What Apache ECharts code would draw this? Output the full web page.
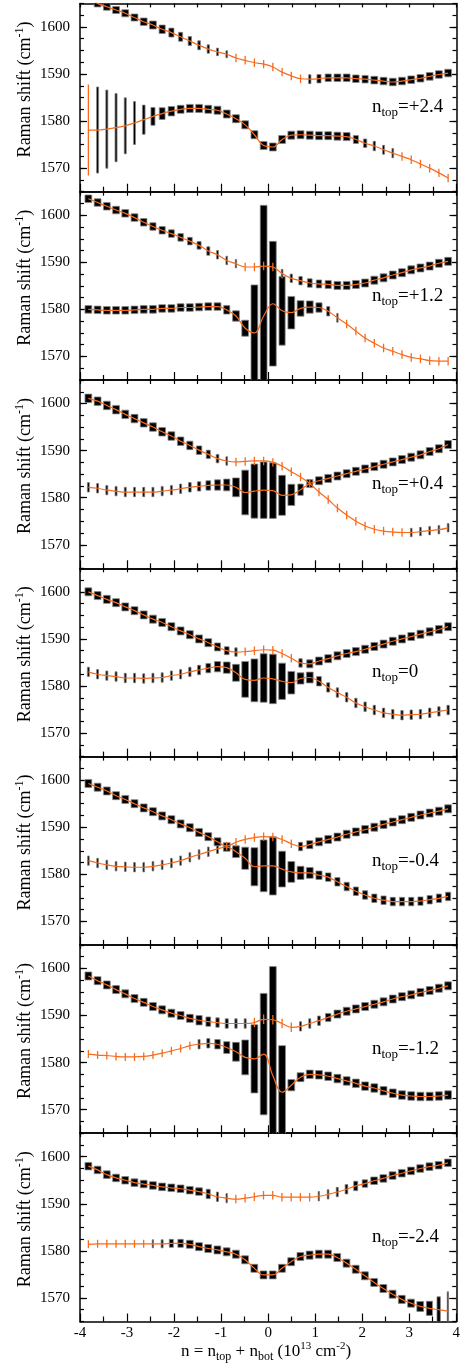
<!DOCTYPE html>
<html>
<head>
<meta charset="utf-8">
<script src="https://cdn.jsdelivr.net/npm/echarts@6/dist/echarts.min.js"></script>
<style>
  html, body { margin: 0; padding: 0; background: #fff; }
  #chart { width: 463px; height: 1363px; }
</style>
</head>
<body>
<div id="chart"></div>
<script>
// carrier density n = n_top + n_bot (10^13 cm^-2), shared by every panel
const dopings = [-3.822, -3.626, -3.430, -3.234, -3.038, -2.842, -2.646, -2.450, -2.254, -2.058,
  -1.862, -1.666, -1.470, -1.274, -1.078, -0.882, -0.686, -0.490, -0.294, -0.098,
  0.098, 0.294, 0.490, 0.686, 0.882, 1.078, 1.274, 1.470, 1.666, 1.862,
  2.058, 2.254, 2.450, 2.646, 2.842, 3.038, 3.234, 3.430, 3.626, 3.822]
const panelLabels = ['+2.4', '+1.2', '+0.4', '0', '-0.4', '-1.2', '-2.4']
const yTicks = [1570, 1580, 1590, 1600]

// freq = peak position (cm-1), fwhm = linewidth (cm-1), amp = relative intensity
// n_top = +2.4
const p1UpFreq = [1606.4, 1605.0, 1604.3, 1603.6, 1602.9, 1602.0, 1601.1, 1600.4, 1599.5, 1598.8,
  1597.9, 1597.0, 1596.1, 1595.3, 1594.7, 1594.2, 1593.4, 1592.9, 1592.4, 1592.1,
  1591.5, 1590.4, 1589.6, 1589.0, 1588.9, 1589.0, 1589.2, 1589.2, 1589.2, 1589.0,
  1588.9, 1588.7, 1588.5, 1588.3, 1588.5, 1588.8, 1589.1, 1589.5, 1589.9, 1590.2]
const p1UpFwhm = [1.5, 1.5, 1.5, 1.5, 1.5, 1.5, 1.6, 1.7, 1.8, 1.9,
  1.9, 1.9, 1.9, 1.8, 1.6, 1.5, 1.8, 1.8, 1.8, 1.8,
  1.8, 1.8, 1.8, 1.8, 1.9, 1.8, 1.6, 1.6, 1.6, 1.6,
  1.6, 1.6, 1.6, 1.6, 1.6, 1.6, 1.6, 1.6, 1.6, 1.6]
const p1UpAmp = [1, 1, 1, 1, 1, 1, 1, 1, 0.9, 0.75,
  0.6, 0.5, 0.4, 0.35, 0.3, 0.25, 0, 0, 0, 0,
  0, 0, 0, 0, 0.35, 0.6, 0.9, 1, 1, 0.95,
  0.9, 1, 1, 1, 1, 1, 1, 1, 1, 1]
const p1LoFreq = [1578.1, 1578.1, 1578.3, 1578.6, 1579.0, 1579.6, 1580.3, 1581.0, 1581.6, 1582.1,
  1582.5, 1582.7, 1582.7, 1582.5, 1582.3, 1581.5, 1580.5, 1579.2, 1577.1, 1574.8,
  1574.5, 1576.1, 1577.0, 1577.1, 1577.0, 1576.9, 1576.9, 1576.8, 1576.7, 1576.1,
  1575.3, 1574.7, 1573.9, 1573.2, 1572.5, 1571.8, 1570.9, 1570.0, 1569.0, 1567.9]
const p1LoFwhm = [19.3, 18.3, 16.6, 14.5, 11.9, 9.1, 6.2, 3.8, 2.5, 2.0,
  1.7, 1.7, 1.7, 1.7, 1.7, 1.7, 1.7, 1.7, 1.7, 1.7,
  1.7, 1.7, 1.7, 1.7, 1.7, 1.7, 1.7, 1.7, 1.7, 1.7,
  1.8, 2.0, 1.9, 2.0, 1.8, 1.8, 1.8, 1.8, 1.8, 1.8]
const p1LoAmp = [0, 0.3, 0.3, 0.3, 0.3, 0.3, 0.4, 0.6, 0.85, 0.95,
  1, 1, 1, 1, 1, 1, 1, 1, 1, 1,
  1, 1, 1, 1, 1, 1, 1, 1, 1, 0.75,
  0.5, 0.35, 0.3, 0.25, 0, 0, 0, 0, 0, 0]

// n_top = +1.2
const p2UpFreq = [1603.5, 1602.7, 1601.9, 1601.1, 1600.4, 1599.5, 1598.5, 1597.6, 1596.8, 1596.1,
  1595.3, 1594.5, 1593.6, 1592.4, 1591.6, 1590.4, 1589.7, 1589.0, 1589.0, 1589.2,
  1589.0, 1587.6, 1586.6, 1586.1, 1585.6, 1585.4, 1585.3, 1585.1, 1585.1, 1585.3,
  1585.6, 1586.2, 1586.7, 1587.3, 1587.8, 1588.4, 1588.8, 1589.2, 1589.8, 1590.2]
const p2UpFwhm = [1.6, 1.6, 1.6, 1.6, 1.6, 1.6, 1.6, 1.6, 1.6, 1.6,
  1.6, 1.6, 1.6, 1.8, 1.8, 1.8, 1.8, 1.8, 1.8, 1.8,
  1.8, 1.8, 1.8, 1.8, 1.8, 1.7, 1.7, 1.7, 1.7, 1.7,
  1.7, 1.7, 1.7, 1.7, 1.7, 1.7, 1.7, 1.7, 1.7, 1.7]
const p2UpAmp = [1, 1, 1, 1, 1, 1, 0.95, 0.9, 0.9, 0.85,
  0.8, 0.7, 0.6, 0.45, 0.3, 0.25, 0.2, 0, 0, 0,
  0, 0.25, 0.35, 0.5, 0.7, 0.8, 0.9, 1, 1, 1,
  1, 1, 1, 1, 1, 1, 1, 1, 1, 1]
const p2LoFreq = [1580.0, 1579.9, 1579.8, 1579.8, 1579.8, 1579.9, 1580.0, 1580.0, 1580.2, 1580.2,
  1580.4, 1580.4, 1580.5, 1580.6, 1580.6, 1579.9, 1578.6, 1576.0, 1575.0, 1578.6,
  1581.2, 1579.7, 1579.3, 1580.2, 1580.5, 1580.4, 1579.6, 1578.2, 1576.9, 1575.4,
  1573.9, 1572.8, 1571.8, 1571.1, 1570.4, 1569.8, 1569.5, 1569.1, 1569.0, 1569.0]
const p2LoFwhm = [1.6, 1.6, 1.6, 1.6, 1.6, 1.6, 1.6, 1.6, 1.6, 1.6,
  1.6, 1.6, 1.6, 1.6, 1.6, 1.8, 2.2, 3.4, 20.4, 47,
  26.5, 14.6, 6.9, 3.3, 2.6, 2.0, 2.0, 1.9, 1.8, 1.8,
  1.8, 1.8, 1.8, 1.8, 1.8, 1.8, 1.8, 1.8, 1.8, 1.8]
const p2LoAmp = [1, 1, 1, 1, 1, 1, 1, 1, 1, 1,
  1, 1, 1, 1, 1, 0.9, 1, 1, 1, 1,
  1, 0.9, 1, 1, 1, 0.9, 0.45, 0.2, 0, 0,
  0, 0, 0, 0, 0, 0, 0, 0, 0, 0]

// n_top = +0.4
const p3UpFreq = [1601.1, 1600.5, 1599.6, 1598.7, 1597.7, 1596.8, 1595.9, 1595.0, 1594.0, 1593.1,
  1592.0, 1591.1, 1590.1, 1589.2, 1588.3, 1587.8, 1587.6, 1587.7, 1587.8, 1587.8,
  1587.5, 1586.7, 1585.5, 1584.4, 1583.0, 1581.2, 1579.6, 1577.8, 1576.3, 1575.0,
  1574.0, 1573.3, 1572.9, 1572.7, 1572.6, 1572.6, 1572.8, 1573.0, 1573.2, 1573.6]
const p3UpFwhm = [1.8, 1.8, 1.8, 1.8, 1.8, 1.8, 1.8, 1.8, 1.8, 1.8,
  1.8, 1.8, 1.8, 1.8, 1.8, 1.8, 1.8, 1.8, 1.8, 1.8,
  1.8, 1.8, 1.8, 1.8, 1.8, 1.8, 1.8, 1.8, 1.8, 1.8,
  1.8, 1.8, 1.8, 1.8, 1.8, 1.8, 1.8, 1.8, 1.8, 1.8]
const p3UpAmp = [1, 1, 1, 1, 1, 1, 1, 1, 1, 1,
  0.95, 0.9, 0.8, 0.6, 0.4, 0.25, 0, 0, 0, 0,
  0, 0, 0, 0, 0, 0, 0, 0, 0, 0,
  0, 0, 0, 0, 0, 0.25, 0.25, 0.25, 0.25, 0.25]
const p3LoFreq = [1582.2, 1582.0, 1581.6, 1581.4, 1581.2, 1581.2, 1581.2, 1581.2, 1581.4, 1581.6,
  1581.9, 1582.2, 1582.4, 1582.6, 1582.7, 1582.7, 1582.2, 1581.1, 1581.4, 1581.6,
  1581.5, 1580.5, 1580.6, 1581.7, 1583.0, 1583.6, 1584.1, 1584.6, 1585.1, 1585.6,
  1586.1, 1586.6, 1587.1, 1587.6, 1588.1, 1588.6, 1589.1, 1589.8, 1590.4, 1591.3]
const p3LoFwhm = [2.0, 2.0, 2.0, 2.0, 2.0, 2.0, 2.0, 2.0, 2.0, 2.0,
  2.0, 2.0, 2.0, 2.0, 2.2, 2.5, 4.0, 9.5, 11.5, 12.0,
  11.8, 8.5, 4.5, 2.4, 1.7, 1.7, 1.7, 1.7, 1.7, 1.7,
  1.7, 1.7, 1.7, 1.7, 1.7, 1.7, 1.7, 1.7, 1.7, 1.7]
const p3LoAmp = [0.3, 0.3, 0.3, 0.3, 0.3, 0.3, 0.3, 0.3, 0.3, 0.3,
  0.3, 0.4, 0.5, 0.7, 0.85, 0.9, 1, 1, 1, 1,
  1, 1, 1, 0.8, 0.9, 1, 1, 1, 1, 1,
  1, 1, 1, 1, 1, 1, 1, 1, 1, 1]

// n_top = 0
const p4UpFreq = [1600.0, 1599.2, 1598.4, 1597.7, 1596.8, 1596.0, 1595.1, 1594.2, 1593.5, 1592.6,
  1591.7, 1590.9, 1590.0, 1589.2, 1588.3, 1587.5, 1587.2, 1587.3, 1587.5, 1587.7,
  1587.6, 1586.9, 1585.9, 1584.9, 1584.7, 1585.3, 1585.8, 1586.4, 1586.9, 1587.3,
  1587.8, 1588.4, 1588.9, 1589.5, 1590.0, 1590.5, 1591.0, 1591.5, 1592.0, 1592.6]
const p4UpFwhm = [1.7, 1.7, 1.7, 1.7, 1.7, 1.7, 1.7, 1.7, 1.7, 1.7,
  1.7, 1.7, 1.7, 1.7, 1.7, 1.7, 1.8, 1.8, 1.8, 1.8,
  1.8, 1.8, 1.8, 1.8, 1.7, 1.7, 1.7, 1.7, 1.7, 1.7,
  1.7, 1.7, 1.7, 1.7, 1.7, 1.7, 1.7, 1.7, 1.7, 1.7]
const p4UpAmp = [1, 1, 1, 1, 1, 1, 1, 1, 1, 1,
  1, 1, 1, 1, 0.9, 0.7, 0.35, 0, 0, 0,
  0, 0, 0, 0.5, 0.9, 1, 1, 1, 1, 1,
  1, 1, 1, 1, 1, 1, 1, 1, 1, 1]
const p4LoFreq = [1583.0, 1582.5, 1582.2, 1582.0, 1581.7, 1581.7, 1581.6, 1581.7, 1581.8, 1582.2,
  1582.5, 1583.0, 1583.4, 1583.8, 1584.1, 1583.9, 1582.8, 1581.4, 1581.2, 1581.7,
  1581.5, 1581.0, 1580.7, 1581.6, 1581.8, 1581.0, 1579.7, 1578.6, 1577.6, 1576.4,
  1575.6, 1574.9, 1574.3, 1574.0, 1573.8, 1573.9, 1574.0, 1574.3, 1574.6, 1574.9]
const p4LoFwhm = [2.0, 2.0, 2.0, 2.0, 2.0, 2.0, 2.0, 2.0, 2.0, 2.0,
  2.0, 2.0, 2.0, 2.0, 2.2, 2.4, 3.6, 7.6, 9.1, 10.3,
  10.5, 7.7, 4.8, 2.4, 2.3, 2.0, 2.0, 2.0, 2.0, 2.0,
  2.0, 2.0, 2.0, 2.0, 2.0, 2.0, 2.0, 2.0, 2.0, 2.0]
const p4LoAmp = [0.3, 0.3, 0.3, 0.3, 0.3, 0.3, 0.3, 0.3, 0.3, 0.3,
  0.3, 0.35, 0.45, 0.7, 0.9, 1, 1, 1, 1, 1,
  1, 1, 1, 1, 1, 0.7, 0.45, 0.35, 0.35, 0.35,
  0.35, 0.35, 0.35, 0.35, 0.35, 0.35, 0.35, 0.35, 0.35, 0.35]

// n_top = -0.4
const p5UpFreq = [1599.3, 1598.5, 1597.7, 1596.7, 1595.9, 1595.0, 1594.1, 1593.3, 1592.4, 1591.6,
  1590.7, 1589.9, 1588.9, 1588.0, 1586.9, 1586.0, 1586.8, 1587.4, 1587.8, 1588.0,
  1587.9, 1587.4, 1586.5, 1585.9, 1586.3, 1586.9, 1587.4, 1587.9, 1588.5, 1589.0,
  1589.5, 1590.0, 1590.6, 1591.1, 1591.6, 1592.1, 1592.6, 1593.0, 1593.4, 1593.9]
const p5UpFwhm = [1.7, 1.7, 1.7, 1.7, 1.7, 1.7, 1.7, 1.7, 1.7, 1.7,
  1.7, 1.7, 1.7, 1.7, 1.7, 1.8, 1.8, 1.8, 1.8, 1.8,
  1.8, 1.8, 1.8, 1.8, 1.7, 1.7, 1.7, 1.7, 1.7, 1.7,
  1.7, 1.7, 1.7, 1.7, 1.7, 1.7, 1.7, 1.7, 1.7, 1.7]
const p5UpAmp = [1, 1, 1, 1, 1, 1, 1, 1, 1, 1,
  1, 1, 1, 1, 1, 0, 0, 0, 0, 0,
  0, 0, 0, 0.6, 0.9, 1, 1, 1, 1, 1,
  1, 1, 1, 1, 1, 1, 1, 1, 1, 1]
const p5LoFreq = [1582.9, 1582.4, 1582.0, 1581.7, 1581.6, 1581.5, 1581.5, 1581.7, 1582.0, 1582.4,
  1582.9, 1583.6, 1584.2, 1584.8, 1585.4, 1585.8, 1584.8, 1583.4, 1581.6, 1581.8,
  1581.8, 1581.1, 1580.5, 1580.3, 1580.3, 1579.8, 1579.4, 1578.4, 1577.4, 1576.4,
  1575.6, 1574.9, 1574.5, 1574.2, 1574.2, 1574.2, 1574.3, 1574.6, 1574.9, 1575.3]
const p5LoFwhm = [2.0, 2.0, 2.0, 2.0, 2.0, 2.0, 2.0, 2.0, 2.0, 2.0,
  2.0, 2.0, 2.0, 2.0, 2.0, 1.8, 2.5, 4.7, 8.1, 11.0,
  12.4, 7.6, 4.4, 2.8, 2.3, 1.8, 1.8, 1.8, 1.8, 1.8,
  1.8, 1.8, 1.8, 1.8, 1.8, 1.8, 1.8, 1.8, 1.8, 1.8]
const p5LoAmp = [0.25, 0.25, 0.25, 0.25, 0.25, 0.25, 0.25, 0.25, 0.25, 0.25,
  0.25, 0.25, 0.25, 0.25, 0.3, 1, 1, 1, 1, 1,
  1, 1, 1, 1, 1, 0.9, 0.8, 0.75, 0.75, 0.75,
  0.75, 0.75, 0.75, 0.75, 0.75, 0.75, 0.75, 0.75, 0.75, 0.75]

// n_top = -1.2
const p6UpFreq = [1598.4, 1597.4, 1596.5, 1595.5, 1594.6, 1593.6, 1592.8, 1591.9, 1591.2, 1590.5,
  1590.0, 1589.4, 1589.0, 1588.7, 1588.5, 1588.3, 1588.3, 1588.3, 1588.5, 1589.2,
  1589.1, 1588.3, 1587.5, 1587.7, 1588.3, 1588.9, 1589.6, 1590.3, 1590.9, 1591.4,
  1591.9, 1592.4, 1592.9, 1593.5, 1594.0, 1594.4, 1594.9, 1595.3, 1595.8, 1596.3]
const p6UpFwhm = [1.7, 1.7, 1.7, 1.7, 1.7, 1.7, 1.7, 1.7, 1.7, 1.7,
  1.7, 1.7, 2.0, 2.0, 2.0, 2.0, 2.0, 2.0, 2.0, 2.0,
  2.0, 2.0, 2.0, 2.0, 2.0, 2.0, 1.7, 1.7, 1.7, 1.7,
  1.7, 1.7, 1.7, 1.7, 1.7, 1.7, 1.7, 1.7, 1.7, 1.7]
const p6UpAmp = [1, 1, 1, 1, 1, 1, 1, 1, 1, 1,
  1, 1, 0.9, 0.7, 0.5, 0.45, 0.35, 0.3, 0, 0,
  0, 0, 0, 0.3, 0.3, 0.4, 0.8, 1, 1, 1,
  1, 1, 1, 1, 1, 1, 1, 1, 1, 1]
const p6LoFreq = [1581.8, 1581.6, 1581.5, 1581.3, 1581.2, 1581.2, 1581.3, 1581.6, 1582.0, 1582.5,
  1583.0, 1583.6, 1583.9, 1584.1, 1583.9, 1583.2, 1582.3, 1581.1, 1580.8, 1581.8,
  1577.2, 1573.7, 1575.2, 1576.9, 1577.5, 1577.4, 1577.1, 1576.6, 1576.1, 1575.6,
  1575.0, 1574.6, 1574.0, 1573.5, 1573.1, 1572.9, 1572.8, 1572.8, 1572.9, 1573.1]
const p6LoFwhm = [1.7, 1.7, 1.7, 1.7, 1.7, 1.7, 1.7, 1.7, 1.7, 1.7,
  1.7, 1.7, 2.0, 2.0, 2.0, 2.5, 4.0, 7.4, 14.5, 25.8,
  46.4, 19.8, 2.4, 1.9, 1.8, 1.8, 1.8, 1.8, 1.8, 1.8,
  1.8, 1.8, 1.8, 1.8, 1.8, 1.8, 1.8, 1.8, 1.8, 1.8]
const p6LoAmp = [0, 0, 0, 0, 0, 0, 0, 0, 0, 0,
  0, 0, 0.3, 0.45, 0.8, 0.9, 1, 1, 1, 1,
  1, 1, 1, 1, 1, 1, 1, 1, 1, 1,
  1, 1, 1, 1, 1, 1, 1, 1, 1, 1]

// n_top = -2.4
const p7UpFreq = [1598.0, 1597.2, 1596.2, 1595.5, 1595.0, 1594.5, 1594.2, 1593.9, 1593.6, 1593.4,
  1593.2, 1592.9, 1592.6, 1592.1, 1591.5, 1591.2, 1591.0, 1591.2, 1591.5, 1591.8,
  1591.8, 1591.4, 1591.4, 1591.4, 1591.4, 1591.6, 1592.0, 1592.5, 1593.1, 1593.8,
  1594.3, 1594.9, 1595.4, 1596.0, 1596.5, 1597.0, 1597.5, 1597.9, 1598.2, 1598.7]
const p7UpFwhm = [1.6, 1.6, 1.6, 1.6, 1.6, 1.6, 1.6, 1.6, 1.6, 1.6,
  1.6, 1.6, 1.6, 2.0, 2.0, 2.0, 1.8, 1.8, 1.8, 1.8,
  1.8, 1.8, 1.8, 1.8, 1.8, 2.0, 2.0, 2.0, 2.0, 2.0,
  1.6, 1.6, 1.6, 1.6, 1.6, 1.6, 1.6, 1.6, 1.6, 1.6]
const p7UpAmp = [1, 1, 1, 1, 1, 1, 1, 1, 1, 1,
  1, 1, 1, 0.6, 0.3, 0.2, 0, 0, 0, 0,
  0, 0, 0, 0, 0, 0.2, 0.25, 0.3, 0.4, 0.6,
  0.8, 1, 1, 1, 1, 1, 1, 1, 1, 1]
const p7LoFreq = [1581.4, 1581.5, 1581.5, 1581.5, 1581.5, 1581.5, 1581.5, 1581.5, 1581.5, 1581.6,
  1581.6, 1581.4, 1580.9, 1580.5, 1580.2, 1579.8, 1579.3, 1578.1, 1576.3, 1574.9,
  1574.9, 1576.3, 1577.7, 1578.8, 1579.1, 1579.3, 1579.3, 1578.6, 1577.4, 1576.1,
  1574.7, 1573.3, 1572.0, 1570.8, 1569.7, 1568.9, 1568.2, 1567.8, 1567.5, 1567.2]
const p7LoFwhm = [1.7, 1.7, 1.7, 1.7, 1.7, 1.7, 1.7, 1.7, 1.7, 1.7,
  1.7, 1.7, 1.7, 1.7, 1.7, 1.7, 1.7, 1.7, 1.7, 1.7,
  1.7, 1.7, 1.7, 1.7, 1.7, 1.7, 1.7, 1.7, 1.7, 1.7,
  1.7, 1.7, 1.7, 1.7, 1.7, 1.7, 2.1, 3.0, 5.5, 8.2]
const p7LoAmp = [0, 0, 0, 0, 0, 0, 0, 0.2, 0.3, 0.6,
  0.8, 1, 1, 1, 1, 1, 1, 1, 1, 1,
  1, 1, 1, 1, 1, 1, 1, 1, 1, 1,
  1, 1, 1, 1, 1, 1, 1, 0.9, 0.5, 0.2]

const panels = [
  { up: [p1UpFreq, p1UpFwhm, p1UpAmp], lo: [p1LoFreq, p1LoFwhm, p1LoAmp] },
  { up: [p2UpFreq, p2UpFwhm, p2UpAmp], lo: [p2LoFreq, p2LoFwhm, p2LoAmp] },
  { up: [p3UpFreq, p3UpFwhm, p3UpAmp], lo: [p3LoFreq, p3LoFwhm, p3LoAmp] },
  { up: [p4UpFreq, p4UpFwhm, p4UpAmp], lo: [p4LoFreq, p4LoFwhm, p4LoAmp] },
  { up: [p5UpFreq, p5UpFwhm, p5UpAmp], lo: [p5LoFreq, p5LoFwhm, p5LoAmp] },
  { up: [p6UpFreq, p6UpFwhm, p6UpAmp], lo: [p6LoFreq, p6LoFwhm, p6LoAmp] },
  { up: [p7UpFreq, p7UpFwhm, p7UpAmp], lo: [p7LoFreq, p7LoFwhm, p7LoAmp] }
]

const ORANGE = '#f76b1c'
const SERIF = 'Liberation Serif, Times New Roman, serif'
const GRID_LEFT = 80
const GRID_RIGHT = 6.5
const GRID_TOP = 3.4
const PANEL_H = 188.3
const BAR_HALF = 3.4 // half width in px of a full-intensity bar

const chart = echarts.init(document.getElementById('chart'))

// orange error bar with a black box on top whose width follows the intensity
const renderPeak = (params, api) => {
  const x = api.value(0)
  const c = api.value(1)
  const h = api.value(2)
  const w = api.value(3)
  const top = api.coord([x, c + h / 2])
  const bot = api.coord([x, c - h / 2])
  const children = [{
    type: 'line',
    shape: { x1: top[0], y1: top[1], x2: bot[0], y2: bot[1] },
    style: { stroke: ORANGE, lineWidth: 1.3 }
  }]
  if (w > 0) {
    const hw = w * BAR_HALF
    children.push({
      type: 'rect',
      shape: { x: top[0] - hw, y: top[1], width: hw * 2, height: bot[1] - top[1] },
      style: { fill: '#000', stroke: '#8a8a8a', lineWidth: 0.8 }
    })
  }
  return { type: 'group', children }
}

const grid = []
const xAxis = []
const yAxis = []
const series = []
const graphic = []

const lineStyleBlack = { color: '#000', width: 1.5 }
const tickStyle = { color: '#000', width: 1.2 }

panels.forEach((panel, i) => {
  const top = GRID_TOP + i * PANEL_H
  grid.push({ left: GRID_LEFT, right: GRID_RIGHT, top: top, height: PANEL_H, show: false })

  ;['bottom', 'top'].forEach(pos => {
    xAxis.push({
      gridIndex: i,
      type: 'value',
      position: pos,
      min: -4,
      max: 4,
      interval: 1,
      axisLine: { show: true, onZero: false, lineStyle: lineStyleBlack },
      axisTick: { show: true, inside: true, length: pos === 'bottom' ? 8 : 4, lineStyle: tickStyle },
      minorTick: { show: true, splitNumber: 2, length: pos === 'bottom' ? 5 : 4, lineStyle: tickStyle },
      axisLabel: {
        show: pos === 'bottom' && i === panels.length - 1,
        margin: 4,
        color: '#000',
        fontFamily: SERIF,
        fontSize: 15,
        formatter: v => String(v)
      },
      splitLine: { show: false }
    })
  })

  ;['left', 'right'].forEach(pos => {
    // major ticks + labels
    yAxis.push({
      gridIndex: i,
      type: 'value',
      position: pos,
      min: 1565,
      max: 1605,
      axisLine: { show: true, onZero: false, lineStyle: lineStyleBlack },
      axisTick: { show: true, inside: true, length: 7, customValues: yTicks, lineStyle: tickStyle },
      axisLabel: {
        show: pos === 'left',
        customValues: yTicks,
        margin: 10,
        color: '#000',
        fontFamily: SERIF,
        fontSize: 15,
        formatter: v => String(v)
      },
      splitLine: { show: false }
    })
    // minor ticks every 2.5
    yAxis.push({
      gridIndex: i,
      type: 'value',
      position: pos,
      min: 1565,
      max: 1605,
      interval: 2.5,
      axisLine: { show: false, onZero: false },
      axisTick: { show: true, inside: true, length: 4, lineStyle: tickStyle },
      axisLabel: { show: false },
      splitLine: { show: false }
    })
  })

  const xIdx = i * 2
  const yIdx = i * 4
  const branches = [panel.lo, panel.up]

  branches.forEach(([freq, fwhm, amp]) => {
    series.push({
      type: 'custom',
      xAxisIndex: xIdx,
      yAxisIndex: yIdx,
      clip: true,
      z: 2,
      renderItem: renderPeak,
      encode: { x: 0, y: 1 },
      data: dopings.map((n, k) => [n, freq[k], fwhm[k], amp[k]])
    })
  })
  branches.forEach(([freq]) => {
    series.push({
      type: 'line',
      xAxisIndex: xIdx,
      yAxisIndex: yIdx,
      smooth: 0.4,
      showSymbol: false,
      symbol: 'none',
      z: 3,
      lineStyle: { color: ORANGE, width: 1.2 },
      data: dopings.map((n, k) => [n, freq[k]])
    })
  })

  // y axis title
  graphic.push({
    type: 'text',
    x: 25,
    y: top + 86,
    rotation: Math.PI / 2,
    style: {
      text: '{a|Raman shift (cm}{s|-1}{a|)}',
      align: 'center',
      verticalAlign: 'middle',
      rich: {
        a: { fontFamily: SERIF, fontSize: 18, lineHeight: 22, fill: '#000', verticalAlign: 'middle' },
        s: { fontFamily: SERIF, fontSize: 12, lineHeight: 22, fill: '#000', verticalAlign: 'top', padding: [0, 0, 8, 0] }
      }
    }
  })
  // panel label
  graphic.push({
    type: 'text',
    x: 372,
    y: top + 104,
    style: {
      text: '{a|n}{b|top}{a|=' + panelLabels[i] + '}',
      align: 'left',
      verticalAlign: 'middle',
      rich: {
        a: { fontFamily: SERIF, fontSize: 19, lineHeight: 24, fill: '#000', verticalAlign: 'middle' },
        b: { fontFamily: SERIF, fontSize: 13, lineHeight: 24, fill: '#000', verticalAlign: 'bottom', padding: [8, 0, 0, 0] }
      }
    }
  })
})

// x axis title
graphic.push({
  type: 'text',
  x: 266,
  y: 1352,
  style: {
    text: '{a|n = n}{b|top}{a| + n}{b|bot}{a| (10}{s|13}{a| cm}{s|-2}{a|)}',
    align: 'center',
    verticalAlign: 'middle',
    rich: {
      a: { fontFamily: SERIF, fontSize: 17, lineHeight: 22, fill: '#000', verticalAlign: 'middle' },
      b: { fontFamily: SERIF, fontSize: 12, lineHeight: 22, fill: '#000', verticalAlign: 'bottom', padding: [6, 0, 0, 0] },
      s: { fontFamily: SERIF, fontSize: 11, lineHeight: 22, fill: '#000', verticalAlign: 'top', padding: [0, 0, 6, 0] }
    }
  }
})

chart.setOption({
  animation: false,
  backgroundColor: '#fff',
  grid,
  xAxis,
  yAxis,
  series,
  graphic
})
</script>
</body>
</html>
